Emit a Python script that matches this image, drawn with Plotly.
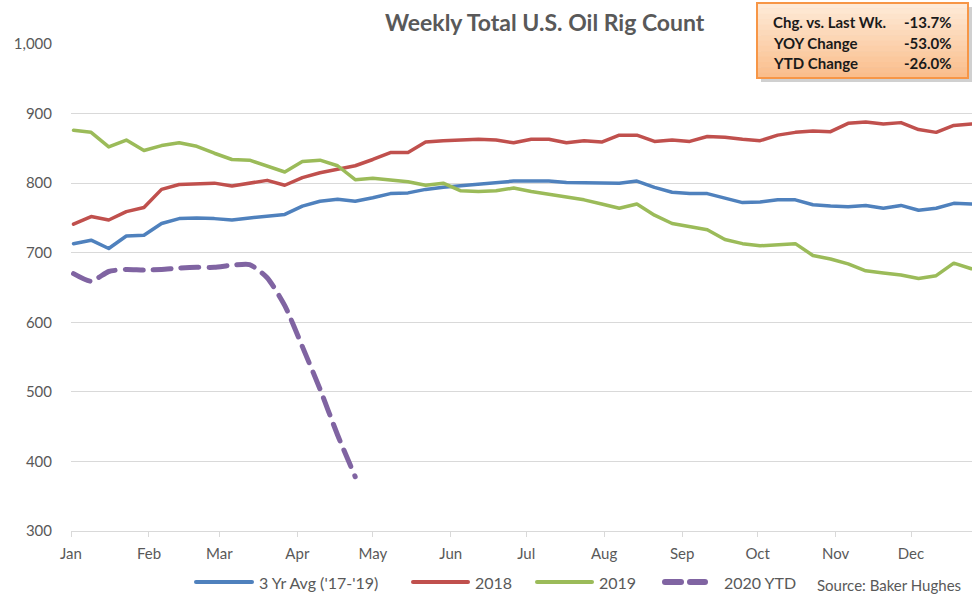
import pandas as pd
import plotly.graph_objects as go

# ---------------- data ----------------
weeks = pd.date_range("2019-01-02", periods=52, freq="7D")  # week-of-year positions

avg_3yr = [713, 718, 706, 724, 725, 742, 749, 750, 749, 747,
           750, 752, 755, 767, 774, 777, 774, 779, 785, 786,
           791, 794, 796, 798, 800, 803, 803, 803, 801, 801,
           800, 800, 803, 794, 787, 785, 785, 779, 772, 773,
           776, 776, 769, 767, 766, 768, 764, 768, 761, 764,
           771, 770]
y2018 = [741, 752, 747, 759, 765, 791, 798, 799, 800, 796,
         800, 804, 797, 808, 815, 820, 825, 834, 844, 844,
         859, 861, 862, 863, 862, 858, 863, 863, 858, 861,
         859, 869, 869, 860, 862, 860, 867, 866, 863, 861,
         869, 873, 875, 874, 886, 888, 885, 887, 877, 873,
         883, 885]
y2019 = [876, 873, 852, 862, 847, 854, 858, 853, 843, 834,
         833, 824, 816, 831, 833, 825, 805, 807, 805, 802,
         797, 800, 789, 788, 789, 793, 788, 784, 779, 776,
         770, 764, 770, 754, 742, 738, 733, 719, 713, 710,
         712, 713, 696, 691, 684, 674, 671, 668, 663, 667,
         685, 677]
y2020 = [670, 659, 673, 676, 675, 676, 678, 679, 679, 682,
         683, 664, 624, 565, 504, 438, 378]

series_names = ["3 Yr Avg ('17-'19)", "2018", "2019", "2020 YTD"]
series_colors = ["#4F81BD", "#C0504D", "#9BBB59", "#8064A2"]

stat_labels = ["Chg. vs. Last Wk.", "YOY Change", "YTD Change"]
stat_values = ["-13.7%", "-53.0%", "-26.0%"]

title_text = "Weekly Total U.S. Oil Rig Count"
source_text = "Source: Baker Hughes"

# ---------------- layout helpers (pixel -> paper) ----------------
W, H = 980, 601
PL, PR, PT, PB = 71, 972, 44, 531


def px(x):
    return (x - PL) / (PR - PL)


def py(y):
    return (PB - y) / (PB - PT)


FONT = "Lato"
GRAY = "#595959"

fig = go.Figure()
all_series = [avg_3yr, y2018, y2019, y2020]
for name, vals, col in zip(series_names, all_series, series_colors):
    is2020 = name.startswith("2020")
    fig.add_trace(go.Scatter(
        x=weeks[:len(vals)], y=vals, name=name, mode="lines",
        line=dict(color=col, width=5 if is2020 else 3.5,
                  dash="18px,10px" if is2020 else "solid",
                  shape="spline" if is2020 else "linear",
                  smoothing=0.6),
        showlegend=False, hoverinfo="x+y+name",
    ))

shapes = []
annotations = []

# ----- stats box with shadow and vertical gradient -----
bx0, by0, bx1, by1 = 757, 3, 968, 78
shapes.append(dict(type="rect", xref="paper", yref="paper",
                   x0=px(bx0 + 4), x1=px(bx1 + 4), y0=py(by1 + 4), y1=py(by0 + 4),
                   fillcolor="rgba(120,120,120,0.35)", line=dict(width=0), layer="above"))
top_c = (254, 234, 215)
bot_c = (250, 190, 140)
n_strip = 14
for k in range(n_strip):
    t = k / (n_strip - 1)
    c = tuple(round(top_c[j] + (bot_c[j] - top_c[j]) * t) for j in range(3))
    ya = by0 + (by1 - by0) * k / n_strip
    yb = by0 + (by1 - by0) * (k + 1) / n_strip
    shapes.append(dict(type="rect", xref="paper", yref="paper",
                       x0=px(bx0), x1=px(bx1), y0=py(yb + 0.5), y1=py(ya),
                       fillcolor="rgb(%d,%d,%d)" % c, line=dict(width=0), layer="above"))
shapes.append(dict(type="rect", xref="paper", yref="paper",
                   x0=px(bx0), x1=px(bx1), y0=py(by1), y1=py(by0),
                   fillcolor="rgba(0,0,0,0)", line=dict(color="#F79646", width=2), layer="above"))

row_y = [22, 43, 63]
for lab, val, ry in zip(stat_labels, stat_values, row_y):
    annotations.append(dict(text="<b>%s</b>" % lab, xref="paper", yref="paper",
                            x=px(771), y=py(ry), xanchor="left", yanchor="middle",
                            showarrow=False, font=dict(family=FONT, size=15, color="#1A1A1A")))
    annotations.append(dict(text="<b>%s</b>" % val, xref="paper", yref="paper",
                            x=px(954), y=py(ry), xanchor="right", yanchor="middle",
                            showarrow=False, font=dict(family=FONT, size=15, color="#1A1A1A")))

# ----- title -----
annotations.append(dict(text="<b>%s</b>" % title_text, xref="paper", yref="paper",
                        x=px(545), y=py(22), xanchor="center", yanchor="middle",
                        showarrow=False, font=dict(family=FONT, size=23, color=GRAY)))

# ----- manual legend -----
leg_y = 582
leg_items = [(196, 252, 257), (413, 468, 473), (537, 592, 597), (663, 707, 722)]
for (lx0, lx1, tx), name, col in zip(leg_items, series_names, series_colors):
    if name.startswith("2020"):
        for a, b in [(665, 681), (690, 705)]:
            shapes.append(dict(type="line", xref="paper", yref="paper",
                               x0=px(a), x1=px(b), y0=py(leg_y), y1=py(leg_y),
                               line=dict(color=col, width=6)))
    else:
        shapes.append(dict(type="line", xref="paper", yref="paper",
                           x0=px(lx0), x1=px(lx1), y0=py(leg_y), y1=py(leg_y),
                           line=dict(color=col, width=4)))
    annotations.append(dict(text=name, xref="paper", yref="paper", x=px(tx), y=py(leg_y),
                            xanchor="left", yanchor="middle", showarrow=False,
                            font=dict(family=FONT, size=16, color=GRAY)))

annotations.append(dict(text=source_text, xref="paper", yref="paper", x=px(815), y=py(585),
                        xanchor="left", yanchor="middle", showarrow=False,
                        font=dict(family=FONT, size=15, color=GRAY)))

fig.update_layout(
    width=W, height=H,
    margin=dict(l=PL, r=W - PR, t=PT, b=H - PB, pad=0, autoexpand=False),
    paper_bgcolor="white", plot_bgcolor="white",
    font=dict(family=FONT, size=15, color=GRAY),
    shapes=shapes, annotations=annotations,
    showlegend=False,
)
fig.update_xaxes(
    type="date", range=["2019-01-01", "2019-12-25 06:00"],
    tick0="2019-01-01", dtick="M1", tickformat="%b",
    ticks="outside", ticklen=5, tickcolor="#D9D9D9", tickwidth=1,
    showline=True, linecolor="#D9D9D9", linewidth=1,
    showgrid=False, zeroline=False, automargin=False,
    ticklabelstandoff=4,
    tickfont=dict(family=FONT, size=15, color=GRAY),
)
fig.update_yaxes(
    range=[300, 1000], dtick=100, tick0=300, tickformat=",d",
    showgrid=True, gridcolor="#D9D9D9", gridwidth=1,
    zeroline=False, showline=False, ticks="", automargin=False,
    ticklabelstandoff=18,
    tickfont=dict(family=FONT, size=15, color=GRAY),
)

post = """
document.body.style.margin = '0';
document.body.style.padding = '0';
document.documentElement.style.overflow = 'hidden';
document.querySelectorAll('.scatterlayer .js-line').forEach(function(p){
  p.style.strokeLinecap='round'; p.style.strokeLinejoin='round';});
document.querySelectorAll('.shapelayer path').forEach(function(p){
  var s = p.getAttribute('style') || '';
  if (s.indexOf('stroke-width: 6px')>=0 || s.indexOf('stroke-width: 4px')>=0) {p.style.strokeLinecap='round';}
});
"""
fig.write_html("out.html", post_script=post, config={"displayModeBar": False})
